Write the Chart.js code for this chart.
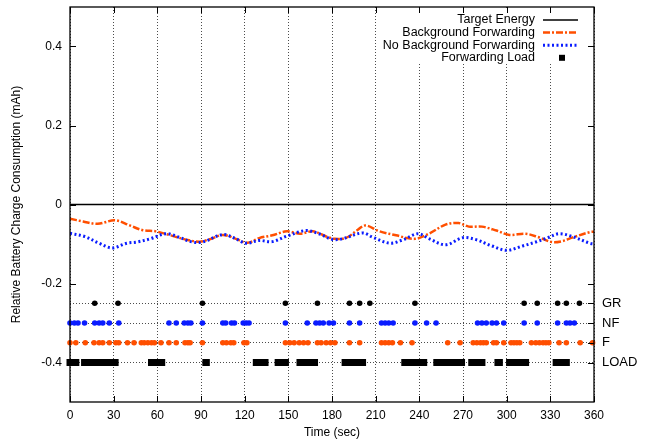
<!DOCTYPE html>
<html>
<head>
<meta charset="utf-8">
<script src="https://cdn.jsdelivr.net/npm/chart.js@4/dist/chart.umd.min.js"></script>
<style>
  html, body { margin: 0; padding: 0; background: #fff; }
</style>
</head>
<body>
<canvas id="chart" width="646" height="441"></canvas>
<script>
// energy curves (time in sec, value in mAh)
const bgTime = [0, 9, 19, 31, 41, 50, 59, 68, 80, 89, 96, 105, 114, 122, 130, 139, 149, 158, 167, 176, 182, 190, 197, 203, 212, 224, 237, 247, 258, 267, 274, 283, 293, 302, 313, 322, 331, 338, 345, 357, 360];
const bgValue = [-0.036, -0.043, -0.049, -0.040, -0.053, -0.065, -0.068, -0.077, -0.089, -0.094, -0.088, -0.077, -0.087, -0.097, -0.085, -0.078, -0.068, -0.074, -0.068, -0.081, -0.087, -0.084, -0.066, -0.053, -0.067, -0.078, -0.087, -0.073, -0.051, -0.047, -0.056, -0.056, -0.066, -0.077, -0.074, -0.083, -0.095, -0.093, -0.084, -0.070, -0.069];
const nbTime = [0, 10, 20, 29, 39, 46, 55, 66, 75, 84, 91, 105, 113, 121, 130, 139, 149, 162, 171, 180, 187, 201, 208, 220, 229, 239, 247, 258, 270, 279, 290, 300, 311, 320, 329, 336, 345, 357, 360];
const nbValue = [-0.073, -0.081, -0.098, -0.110, -0.098, -0.095, -0.087, -0.074, -0.083, -0.095, -0.095, -0.076, -0.085, -0.098, -0.091, -0.094, -0.080, -0.066, -0.074, -0.088, -0.087, -0.072, -0.083, -0.098, -0.089, -0.074, -0.087, -0.102, -0.084, -0.089, -0.105, -0.116, -0.105, -0.095, -0.083, -0.074, -0.081, -0.098, -0.100];

// event rows
const grTimes = [17, 33, 91, 148, 170, 192, 199, 206, 237, 312, 321, 335, 341, 350];
const nfTimes = [0, 3, 5.5, 10, 17, 20, 22.5, 27, 33.5, 68, 73, 78.5, 81, 83, 91, 105, 107, 111, 113, 119, 121, 123, 148, 163, 169, 171.5, 174, 178, 181, 192, 199, 214, 216.5, 219, 222, 237, 245, 251.5, 280, 283, 286, 290, 293, 298, 312, 321, 335, 341, 343.5, 346.5];
const fTimes = [0, 4, 10.5, 16.5, 20, 22.5, 27, 31.5, 33.5, 39.5, 44, 49, 51, 53.5, 56, 58, 62.5, 68, 73, 79, 81, 82.5, 91, 105, 107.5, 110.5, 112.5, 119.5, 121.5, 148, 151, 154, 157.5, 160.5, 163.5, 170, 172.5, 176, 179, 182, 192, 199, 214, 216.5, 219, 221.5, 227, 235, 259.5, 268, 277, 279.5, 282, 284, 286, 291, 293, 298, 303, 305, 307, 309, 317, 320, 322.5, 325, 327, 329, 336, 341, 350.5, 359];
const loadSpans = [[0, 4], [10, 31], [56, 63], [93.5, 93.5], [128, 134], [143, 148], [158, 168], [189, 201], [230, 243], [252, 269], [276, 283], [294, 295], [302, 313], [334, 341]];

const xTicks = [0, 30, 60, 90, 120, 150, 180, 210, 240, 270, 300, 330, 360];
const yTicks = [-0.4, -0.2, 0, 0.2, 0.4];
const rowLabels = ['LOAD', 'F', 'NF', 'GR'];
const rowLevels = [-0.4, -0.35, -0.3, -0.25];

const ORANGE = '#ff4f00';
const BLUE = '#0a1cff';

const pairs = (xs, ys) => xs.map((x, i) => ({ x: x, y: ys[i] }));
const row = (ts, level) => ts.map(t => ({ x: t, y: level }));

// load spans become line segments broken by null gaps
const loadData = [];
loadSpans.forEach(([s, e], i) => {
  loadData.push({ x: s, y: -0.4 }, { x: e, y: -0.4 });
  if (i < loadSpans.length - 1) loadData.push({ x: (e + loadSpans[i + 1][0]) / 2, y: null });
});

const datasets = [
  { label: 'Target Energy', data: [{ x: 0, y: 0 }, { x: 360, y: 0 }],
    borderColor: '#000', borderWidth: 1.5, pointRadius: 0, order: 3 },
  { label: 'Background Forwarding', data: pairs(bgTime, bgValue),
    borderColor: ORANGE, borderWidth: 2.5, borderDash: [7, 2, 2, 2], tension: 0.35,
    pointRadius: 0, order: 2 },
  { label: 'No Background Forwarding', data: pairs(nbTime, nbValue),
    borderColor: BLUE, borderWidth: 3, borderDash: [2, 2.5], tension: 0.35,
    pointRadius: 0, order: 1 },
  { label: 'Forwarding Load', data: loadData, borderColor: '#000', borderWidth: 7,
    borderCapStyle: 'butt', spanGaps: false, pointStyle: 'rect', pointRadius: 4.95,
    pointBackgroundColor: '#000', pointBorderWidth: 0, clip: false, order: 0 },
  { label: 'GR', data: row(grTimes, -0.25), showLine: false, pointRadius: 2.8,
    pointBackgroundColor: '#000', pointBorderWidth: 0, clip: false, order: 0 },
  { label: 'NF', data: row(nfTimes, -0.3), showLine: false, pointRadius: 2.8,
    pointBackgroundColor: BLUE, pointBorderWidth: 0, clip: false, order: 0 },
  { label: 'F', data: row(fTimes, -0.35), showLine: false, pointRadius: 2.8,
    pointBackgroundColor: ORANGE, pointBorderWidth: 0, clip: false, order: 0 }
];

const keyItems = [0, 1, 2, 3];

function line(ctx, x1, y1, x2, y2) {
  ctx.beginPath();
  ctx.moveTo(x1, y1);
  ctx.lineTo(x2, y2);
  ctx.stroke();
}

const gnuplotFrame = {
  id: 'gnuplotFrame',
  beforeDatasetsDraw(chart) {
    // key box sits over the grid in the upper right
    const { ctx, chartArea: a } = chart;
    ctx.save();
    ctx.fillStyle = '#fff';
    ctx.fillRect(379, a.top + 1, a.right - 380, 56);
    ctx.font = '12.5px "Liberation Sans", Arial, sans-serif';
    ctx.textAlign = 'right';
    ctx.textBaseline = 'middle';
    ctx.fillStyle = '#000';
    keyItems.forEach((di, i) => {
      const ds = chart.data.datasets[di];
      const yy = 20 + i * 12.6;
      ctx.fillText(ds.label, 535, yy);
      if (di === 3) {
        ctx.fillRect(559, yy - 3, 6, 6);
      } else {
        ctx.strokeStyle = ds.borderColor;
        ctx.lineWidth = ds.borderWidth;
        ctx.setLineDash(ds.borderDash || []);
        line(ctx, 543, yy, 578, yy);
        ctx.setLineDash([]);
      }
    });
    ctx.restore();
  },
  afterDraw(chart) {
    const { ctx, chartArea: a, scales } = chart;
    ctx.save();
    ctx.strokeStyle = '#000';
    ctx.lineWidth = 1;
    xTicks.forEach(v => {
      const px = Math.round(scales.x.getPixelForValue(v)) + 0.5;
      line(ctx, px, a.bottom, px, a.bottom - 6);
      line(ctx, px, a.top, px, a.top + 6);
    });
    yTicks.concat(rowLevels).forEach(v => {
      const py = Math.round(scales.y.getPixelForValue(v)) + 0.5;
      if (yTicks.includes(v)) line(ctx, a.left, py, a.left + 6, py);
      line(ctx, a.right, py, a.right - 6, py);
    });
    ctx.lineWidth = 1.3;
    ctx.strokeRect(a.left, a.top, a.right - a.left, a.bottom - a.top);
    ctx.restore();
  }
};

const font = { family: '"Liberation Sans", Arial, sans-serif', size: 12 };

// fixed box sizes, no label overhang padding
const fitBox = (w, h) => s => {
  if (w) s.width = w;
  if (h) s.height = h;
  s.paddingTop = 0; s.paddingBottom = 0; s.paddingLeft = 0; s.paddingRight = 0;
};

new Chart(document.getElementById('chart'), {
  type: 'line',
  data: { datasets },
  options: {
    responsive: false,
    animation: false,
    events: [],
    layout: { padding: { top: 7, left: 0, right: 0, bottom: 0 } },
    plugins: { legend: { display: false }, tooltip: { enabled: false } },
    scales: {
      x: {
        type: 'linear', min: 0, max: 360,
        afterBuildTicks: s => { s.ticks = xTicks.map(v => ({ value: v })); },
        afterFit: fitBox(0, 39),
        ticks: { color: '#000', font, padding: 6, maxRotation: 0, autoSkip: false },
        grid: { color: 'rgba(0,0,0,0.7)', drawTicks: false, lineWidth: 1 },
        border: { display: false, dash: [1, 2] },
        title: { display: true, text: 'Time (sec)', color: '#000', font, padding: { top: 0, bottom: 1 } }
      },
      y: {
        type: 'linear', min: -0.5, max: 0.5,
        afterBuildTicks: s => { s.ticks = yTicks.map(v => ({ value: v })); },
        afterFit: fitBox(70, 0),
        ticks: { color: '#000', font, padding: 8, callback: v => (v === 0 ? '0' : v.toFixed(1)) },
        grid: { display: false, drawTicks: false },
        border: { display: false },
        title: { display: true, text: 'Relative Battery Charge Consumption (mAh)', color: '#000', font, padding: { top: 9, bottom: 0 } }
      },
      y2: {
        type: 'linear', position: 'right', min: -0.5, max: 0.5,
        afterBuildTicks: s => { s.ticks = rowLevels.map(v => ({ value: v })); },
        afterFit: fitBox(52, 0),
        ticks: { color: '#000', font: { family: font.family, size: 13 }, padding: 8,
                 callback: v => rowLabels[rowLevels.findIndex(r => Math.abs(r - v) < 1e-6)] },
        grid: { color: 'rgba(0,0,0,0.7)', drawTicks: false, lineWidth: 1 },
        border: { display: false, dash: [1, 2] }
      }
    }
  },
  plugins: [gnuplotFrame]
});
</script>
</body>
</html>
